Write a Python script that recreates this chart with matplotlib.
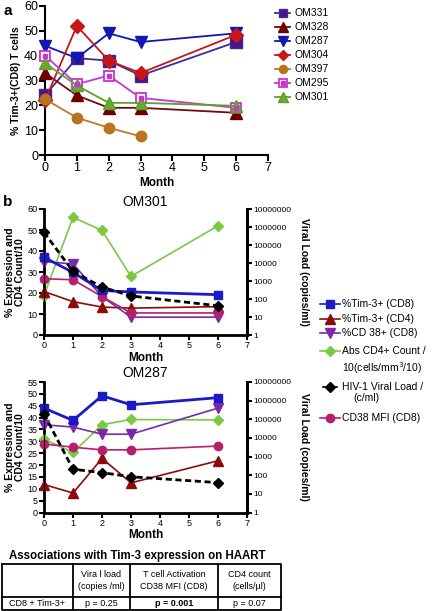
import matplotlib
matplotlib.use('Agg')
import matplotlib.pyplot as plt
from matplotlib.ticker import FixedLocator, FixedFormatter, NullLocator

plt.rcParams['font.family'] = ['Liberation Sans', 'DejaVu Sans']

W, H = 433, 611
fig = plt.figure(figsize=(4.33, 6.11), dpi=100)


def rect(l, t, r, b):
    return [l / W, 1 - b / H, (r - l) / W, (b - t) / H]


# ---------------- Panel a data ----------------
months_a = [0, 1, 2, 3, 6]
months_397 = [0, 1, 2, 3]
om331 = [24, 39, 38, 32, 45.5]
om328 = [33, 24, 19, 19, 17]
om287 = [44, 39, 49, 45.5, 49]
om304 = [22, 52, 38, 33, 48.4]
om397 = [22.5, 15, 11, 7.5]
om295 = [40, 28.5, 32, 23, 19]
om301 = [37, 28, 21, 21, 19.8]
patients = ['OM331', 'OM328', 'OM287', 'OM304', 'OM397', 'OM295', 'OM301']

# ---------------- Panel b data ----------------
months_b = [0, 1, 2, 3, 6]
series_b = ['%Tim-3+ (CD8)', '%Tim-3+ (CD4)', '%CD 38+ (CD8)',
            'Abs CD4+ Count /\n10(cells/mm$^3$/10)', 'HIV-1 Viral Load /\n(c/ml)',
            'CD38 MFI (CD8)']
# OM301
p301_tim3_cd8 = [37, 29.8, 21.2, 20.5, 19.2]
p301_tim3_cd4 = [20.7, 15.9, 13.3, 12.8, 13.5]
p301_cd38_cd8 = [35, 33.8, 18.3, 8.5, 8.5]
p301_cd4_count = [18.8, 56, 49.8, 27.9, 52]
p301_viral_load = [507000, 3400, 460, 148, 42]
p301_cd38_mfi = [26.8, 26.3, 18.3, 10.5, 10.5]
# OM287
p287_tim3_cd8 = [44, 38.8, 49.2, 45.4, 48.4]
p287_tim3_cd4 = [11.8, 8.2, 22.8, 12.5, 21.8]
p287_cd38_cd8 = [37, 36, 33, 33, 44]
p287_cd4_count = [30.9, 25.3, 37, 39.2, 39]
p287_viral_load = [190000, 210, 137, 83, 40]
p287_cd38_mfi = [28.9, 27.5, 26.4, 26.4, 28]

# ---------------- Table data ----------------
tbl_title = 'Associations with Tim-3 expression on HAART'
tbl_header = ['', 'Vira l load\n(copies /ml)', 'T cell Activation\nCD38 MFI (CD8)', 'CD4 count\n(cells/\u00b5l)']
tbl_row = ['CD8 + Tim-3+', 'p = 0.25', 'p = 0.001', 'p = 0.07']

# ================= Panel a =================
axa = fig.add_axes(rect(45, 6, 268, 155))
styles_a = [
    dict(color='#3f2a96', marker='s', mfc='#4a1488', mec='#3f2a96', ms=8),
    dict(color='#6e0a0a', marker='^', mfc='#6e0000', mec='#6e0000', ms=9),
    dict(color='#1018b0', marker='v', mfc='#1018b0', mec='#1018b0', ms=9),
    dict(color='#c41818', marker='D', mfc='#c41818', mec='#c41818', ms=7),
    dict(color='#c07828', marker='o', mfc='#b8741e', mec='#b8741e', ms=7.5),
    dict(color='#cc33cc', marker='s', mfc='white', mec='#cc33cc', ms=7.5, mew=1.3),
    dict(color='#5aa02c', marker='^', mfc='#6aaa30', mec='#5aa02c', ms=9),
]
data_a = [(months_a, om331), (months_a, om328), (months_a, om287), (months_a, om304),
          (months_397, om397), (months_a, om295), (months_a, om301)]
handles_a = []
for (xs, ys), st, name in zip(data_a, styles_a, patients):
    h, = axa.plot(xs, ys, lw=1.3, clip_on=False, zorder=3, label=name, **st)
    if name == 'OM295':
        h2, = axa.plot(xs, ys, ls='none', marker='s', ms=3, mfc='#cc33cc', mec='#cc33cc',
                       clip_on=False, zorder=4)
        handles_a.append((h, h2))
    else:
        handles_a.append(h)
axa.set_xlim(0, 7)
axa.set_ylim(0, 60)
axa.set_xticks(range(0, 8))
axa.set_yticks(range(0, 61, 10))
for s in ['top', 'right']:
    axa.spines[s].set_visible(False)
for s in ['left', 'bottom']:
    axa.spines[s].set_linewidth(1.5)
axa.tick_params(direction='out', length=4, width=1.5, labelsize=9, pad=1)
axa.set_xlabel('Month', fontsize=8.5, fontweight='bold', labelpad=2)
axa.set_ylabel('% Tim-3+(CD8) T cells', fontsize=7.5, fontweight='bold', labelpad=2)
axa.legend(handles_a, patients, loc='upper left', bbox_to_anchor=(275 / W, 1 - 8.5 / H),
           bbox_transform=fig.transFigure, frameon=False, fontsize=7.5, markerscale=0.78,
           handlelength=1.45, handletextpad=0.45, labelspacing=0.38, borderaxespad=0,
           borderpad=0)

# ================= Panel b =================
cols_b = ['#1a1ac8', '#8b0a0a', '#7a2aa8', '#7ac943', '#000000', '#b5206e']
marks_b = ['s', '^', 'v', 'D', 'D', 'o']
ms_b = [5.5, 6.5, 6.5, 5, 5, 6]


def panel_b(box, title, title_y, vals, vl, ytop, ystep):
    ax = fig.add_axes(rect(*box))
    lws = [2.0, 1.2, 1.2, 1.2, 1.2, 1.2]
    order = [3, 1, 2, 5, 0]
    for i in order:
        ax.plot(months_b, vals[i], color=cols_b[i], marker=marks_b[i], ms=ms_b[i],
                lw=lws[i], mfc=cols_b[i], mec=cols_b[i], clip_on=False, zorder=3)
    ax.set_xlim(0, 7)
    ax.set_ylim(0, ytop)
    ax.set_xticks(range(0, 8))
    ax.set_yticks(list(range(0, ytop + 1, ystep)))
    ax.spines['top'].set_visible(False)
    for s in ['left', 'bottom', 'right']:
        ax.spines[s].set_linewidth(2)
    ax.tick_params(direction='out', length=3.5, width=1.5, labelsize=6.5, pad=1)
    ax.set_xlabel('Month', fontsize=8.5, fontweight='bold', labelpad=1)
    ax.set_ylabel('% Expression and\nCD4 Count/10', fontsize=7.5, fontweight='bold',
                  labelpad=2, linespacing=1.0)
    fig.text((box[0] + box[2]) / 2 / W, 1 - title_y / H, title, fontsize=10,
             ha='center', va='center')
    ax2 = ax.twinx()
    ax2.set_yscale('log')
    ax2.set_ylim(1, 1e7)
    ax2.plot(months_b, vl, color='black', ls=(0, (2.2, 1.3)), lw=2, marker='D', ms=5,
             clip_on=False, zorder=5)
    ticks = [10 ** k for k in range(8)]
    ax2.yaxis.set_major_locator(FixedLocator(ticks))
    ax2.yaxis.set_major_formatter(FixedFormatter([str(t) for t in ticks]))
    ax2.yaxis.set_minor_locator(NullLocator())
    ax2.spines['top'].set_visible(False)
    ax2.spines['right'].set_linewidth(2)
    ax2.tick_params(direction='out', length=3.5, width=1.5, labelsize=6, pad=1)
    ax2.set_ylabel('Viral Load (copies/ml)', fontsize=7.5, fontweight='bold',
                   rotation=-90, labelpad=13)
    return ax


panel_b((44, 209, 247, 335), 'OM301', 202,
        [p301_tim3_cd8, p301_tim3_cd4, p301_cd38_cd8, p301_cd4_count, None, p301_cd38_mfi],
        p301_viral_load, 60, 10)
panel_b((44, 382, 247, 512.5), 'OM287', 373,
        [p287_tim3_cd8, p287_tim3_cd4, p287_cd38_cd8, p287_cd4_count, None, p287_cd38_mfi],
        p287_viral_load, 55, 5)

# ================= overlay (legend b, table, labels) =================
ov = fig.add_axes([0, 0, 1, 1], zorder=-1)
ov.set_xlim(0, W)
ov.set_ylim(H, 0)
ov.axis('off')

fig.text(3 / W, 1 - 11 / H, 'a', fontsize=11, fontweight='bold', va='center')
fig.text(3 / W, 1 - 202 / H, 'b', fontsize=11, fontweight='bold', va='center')

leg_y = [304, 319, 333, 351, 387, 418]
for i, (lab, y) in enumerate(zip(series_b, leg_y)):
    x0, x1 = (323, 337) if i == 4 else (320, 340)
    ov.plot([x0, x1], [y, y], color=cols_b[i], lw=1.2, zorder=3)
    ov.plot([330], [y], color=cols_b[i], marker=marks_b[i], ms=ms_b[i], zorder=4)
    if '\n' in lab:
        l1, l2 = lab.split('\n')
        ov.text(342, y, l1, fontsize=7.5, va='center', ha='left')
        if i == 4:
            ov.text(353, y + 11, l2, fontsize=7.5, va='center', ha='left')
        else:
            ov.text(342, y + 17, l2, fontsize=7.5, va='center', ha='left')
    else:
        ov.text(342, y, lab, fontsize=7.5, va='center', ha='left')

# table
ov.text(137, 556, tbl_title, fontsize=8.3, fontweight='bold', ha='center', va='center')
xs = [2, 72.7, 130, 218, 281]
top, mid, bot = 564, 597, 610
lw = 1.3
ov.plot([xs[0], xs[-1], xs[-1], xs[0], xs[0]], [top, top, bot, bot, top], color='black',
        lw=lw, clip_on=False)
ov.plot([xs[0], xs[-1]], [mid, mid], color='black', lw=lw)
for x in xs[1:-1]:
    ov.plot([x, x], [top, bot], color='black', lw=lw)
for j in range(4):
    cx = (xs[j] + xs[j + 1]) / 2
    if tbl_header[j]:
        ov.text(cx, (top + mid) / 2, tbl_header[j], fontsize=6.5, ha='center', va='center',
                linespacing=1.45)
    ov.text(cx, (mid + bot) / 2 + 0.5, tbl_row[j], fontsize=6.5, ha='center', va='center',
            fontweight='bold' if j == 2 else 'normal')

fig.savefig('out.png', dpi=100)
